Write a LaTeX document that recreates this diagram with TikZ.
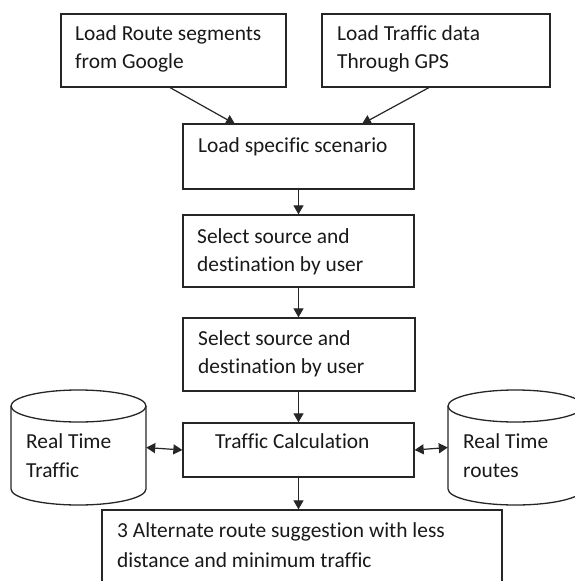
\documentclass[tikz,border=0pt]{standalone}
\usepackage{fontspec}
\setmainfont[Ligatures=CommonOff]{Carlito}
\usetikzlibrary{arrows.meta}
\begin{document}
\begin{tikzpicture}[x=1pt,y=-1pt,
  box/.style={draw=black!85, line width=1.3pt, inner sep=0pt},
  txt/.style={anchor=base west, inner sep=0pt, font=\fontsize{21.4}{25}\selectfont, text=black!90},
  arr/.style={line width=1.2pt, draw=black!85, -{Triangle[width=10pt,length=9pt]}},
  darr/.style={line width=1.2pt, draw=black!85, {Triangle[width=10pt,length=9pt]}-{Triangle[width=10pt,length=9pt]}},
  cyl/.style={draw=black!85, line width=1.3pt}]
\clip (0,0) rectangle (575,581);
\fill[white] (0,0) rectangle (575,581);
% boxes
\node[box, minimum width=225pt, minimum height=73pt] (b1) at (173.5,50.5) {};
\node[box, minimum width=228pt, minimum height=73pt] (b2) at (436,50.5) {};
\node[box, minimum width=231pt, minimum height=65pt] (b3) at (298.5,156.5) {};
\node[box, minimum width=231pt, minimum height=72pt] (b4) at (298.5,251) {};
\node[box, minimum width=232pt, minimum height=73pt] (b5) at (299,354.5) {};
\node[box, minimum width=231pt, minimum height=54pt] (b6) at (298.5,450) {};
\node[box, minimum width=400pt, minimum height=100pt] (b7) at (302,560) {};
% cylinders
\node[minimum width=135pt, minimum height=115pt, inner sep=0pt] (c1) at (78.5,447.5) {};
\node[minimum width=135pt, minimum height=115pt, inner sep=0pt] (c2) at (515.5,447.5) {};
\draw[cyl] (11,406) -- (11,489) arc[start angle=180, end angle=360, x radius=67.5pt, y radius=16pt] -- (146,406);
\draw[cyl] (78.5,406) ellipse[x radius=67.5pt, y radius=16pt];
\draw[cyl] (448,406) -- (448,489) arc[start angle=180, end angle=360, x radius=67.5pt, y radius=16pt] -- (583,406);
\draw[cyl] (515.5,406) ellipse[x radius=67.5pt, y radius=16pt];
% texts
\node[txt] (t1a) at (75,40) {Load Route segments};
\node[txt] (t1b) at (75,68) {from Google};
\node[txt] (t2a) at (337,40) {Load Traffic data};
\node[txt] (t2b) at (337,68) {Through GPS};
\node[txt] (t3) at (198,152) {Load specific scenario};
\node[txt] (t4a) at (197,243) {Select source and};
\node[txt] (t4b) at (197,271) {destination by user};
\node[txt] (t5a) at (198,345) {Select source and};
\node[txt] (t5b) at (198,373) {destination by user};
\node[txt] (t6) at (215,448) {Traffic Calculation};
\node[txt] (t7a) at (26,448) {Real Time};
\node[txt] (t7b) at (26,477) {Traffic};
\node[txt] (t8a) at (463,448) {Real Time};
\node[txt] (t8b) at (463,477) {routes};
\node[txt] (t9a) at (117,537) {3 Alternate route suggestion with less};
\node[txt] (t9b) at (117,567) {distance and minimum traffic};
% connectors
\coordinate (s1) at (169,87);
\coordinate (e1) at (235,124);
\coordinate (s2) at (430,87);
\coordinate (e2) at (362,124);
\draw[arr] (s1) -- (e1);
\draw[arr] (s2) -- (e2);
\draw[arr] (b3.south) -- (b4.north);
\draw[arr] (b4.south) -- (b5.north -| b4.south);
\draw[arr] (b5.south -| b4.south) -- (b6.north);
\draw[arr] (b6.south) -- (b7.north -| b6.south);
\draw[darr] (c1.east) -- (b6.west);
\draw[darr] (b6.east) -- (c2.west);
\end{tikzpicture}
\end{document}
